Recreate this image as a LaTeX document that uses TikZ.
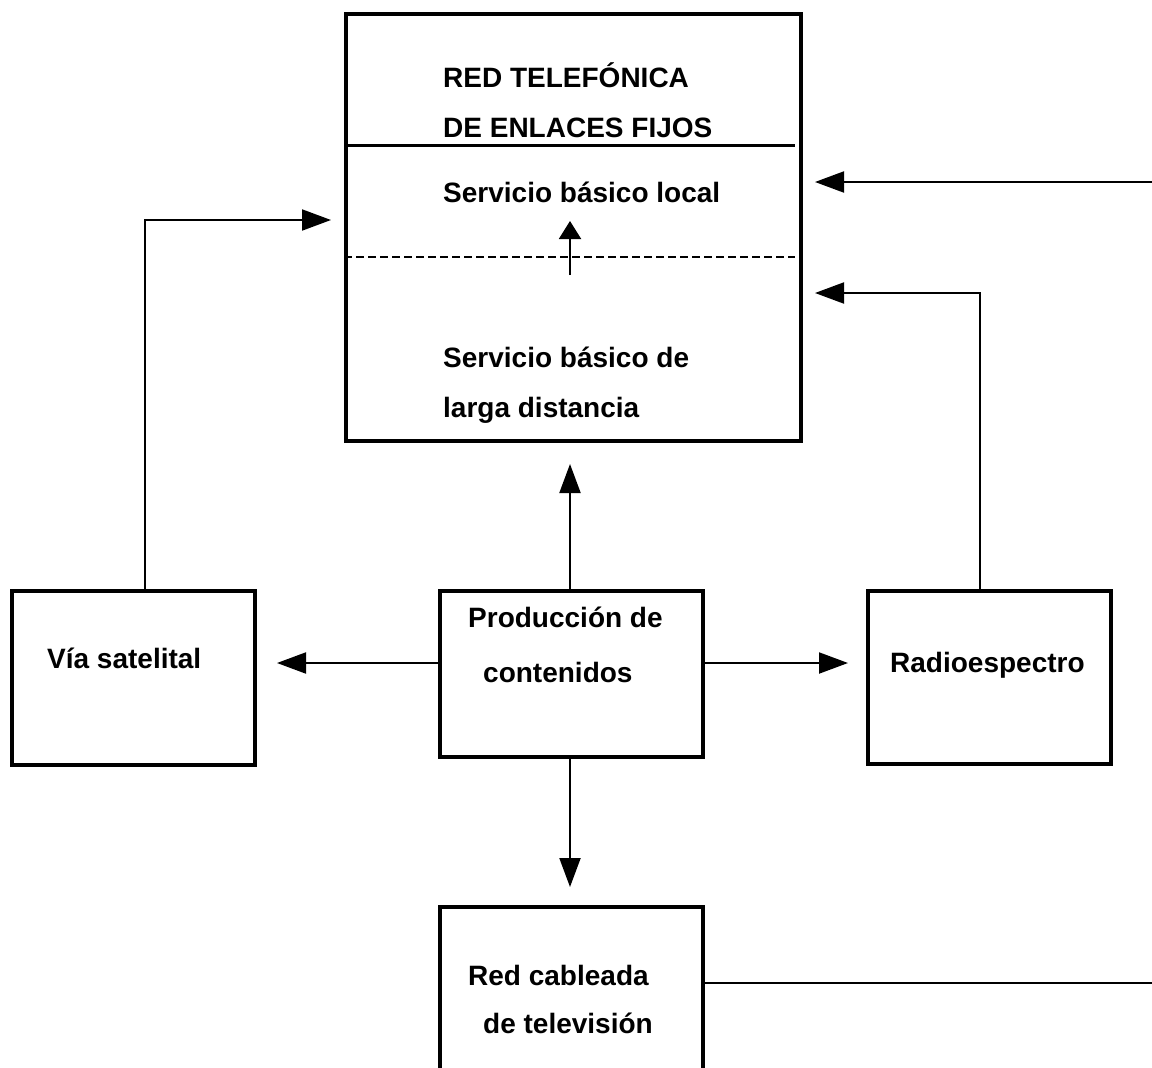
\documentclass[tikz,border=0pt]{standalone}
\usepackage{fontspec}
\setmainfont{Liberation Sans}
\usetikzlibrary{arrows.meta}
\begin{document}
\begin{tikzpicture}[x=1pt,y=-1pt,
  box/.style={draw, line width=4pt, inner sep=0pt, rectangle},
  lbl/.style={anchor=base west, inner sep=0pt, font=\fontsize{28}{34}\selectfont\bfseries},
  conn/.style={line width=2pt},
  arr/.style={conn, -{Triangle[length=29pt,width=21pt]}},
  arrsmall/.style={conn, -{Triangle[length=18pt,width=22pt]}}]
\clip (0,0) rectangle (1152,1068);
\fill[white] (0,0) rectangle (1152,1068);
% boxes
\node[box, minimum width=455pt, minimum height=427pt] (red) at (573.5,227.5) {};
\node[box, minimum width=243pt, minimum height=174pt] (sat) at (133.5,678) {};
\node[box, minimum width=263pt, minimum height=166pt] (prod) at (571.5,674) {};
\node[box, minimum width=243pt, minimum height=173pt] (radio) at (989.5,677.5) {};
\node[box, minimum width=263pt, minimum height=193pt] (cable) at (571.5,1003.5) {};
% dividers inside the top box
\coordinate (d1) at (795,145);
\coordinate (d2) at (795,257);
\draw[line width=3pt] (red.west |- d1) -- (d1);
\draw[line width=1.5pt, dash pattern=on 8pt off 4pt] (red.west |- d2) -- (d2);
% texts
\node[lbl] (t1) at (443,87) {RED TELEFÓNICA};
\node[lbl] (t2) at (443,137) {DE ENLACES FIJOS};
\node[lbl] (t3) at (443,202) {Servicio básico local};
\node[lbl] (t4) at (443,367) {Servicio básico de};
\node[lbl] (t5) at (443,417) {larga distancia};
\node[lbl] (t6) at (47,668) {Vía satelital};
\node[lbl] (t7) at (468,627) {Producción de};
\node[lbl] (t8) at (483,682) {contenidos};
\node[lbl] (t9) at (890,672) {Radioespectro};
\node[lbl] (t10) at (468,985) {Red cableada};
\node[lbl] (t11) at (483,1033) {de televisión};
% small internal arrow
\coordinate (s1) at (570,275);
\coordinate (s2) at (570,221);
\draw[arrsmall] (s1) -- (s2);
% connectors
\coordinate (c1) at (145,220);
\draw[arr, shorten >=13pt] (sat.north -| c1) |- (red.west |- c1);
\coordinate (e1) at (1152,182);
\draw[arr, shorten >=12pt] (e1) -- (red.east |- e1);
\coordinate (c2) at (980,293);
\draw[arr, shorten >=12pt] (radio.north -| c2) |- (red.east |- c2);
\coordinate (v) at (570,0);
\draw[arr, shorten >=21pt] (prod.north -| v) -- (red.south -| v);
\coordinate (h) at (0,663);
\draw[arr, shorten >=20pt] (prod.west |- h) -- (sat.east |- h);
\draw[arr, shorten >=18pt] (prod.east |- h) -- (radio.west |- h);
\draw[arr, shorten >=18pt] (prod.south -| v) -- (cable.north -| v);
\coordinate (e2) at (1152,983);
\draw[conn] (cable.east |- e2) -- (e2);
\end{tikzpicture}
\end{document}
